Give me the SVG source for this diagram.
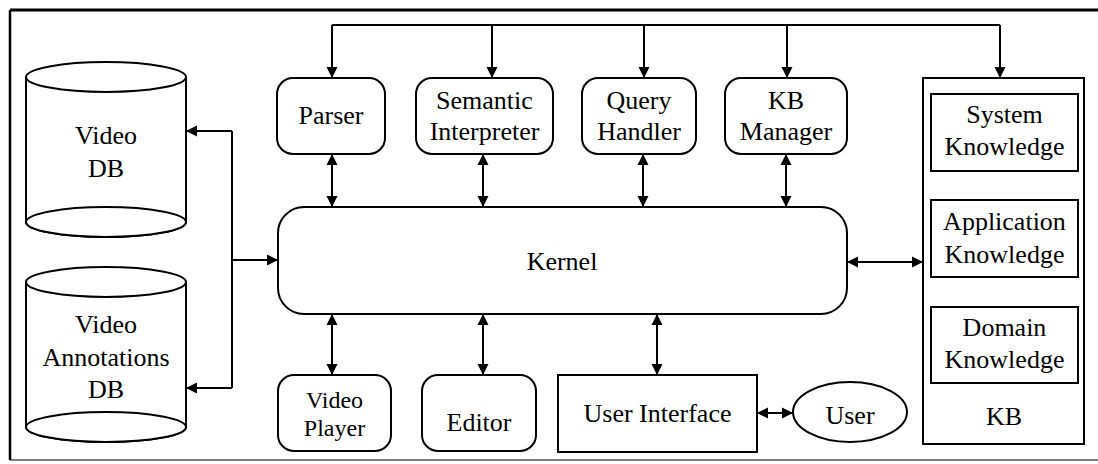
<svg xmlns="http://www.w3.org/2000/svg" width="1098" height="464" viewBox="0 0 1098 464">
<defs>
<style>
.box{fill:#fff;stroke:#000;stroke-width:2}
.frame{fill:none;stroke:#000}
.ln{fill:none;stroke:#000;stroke-width:2}
text{font-family:'Liberation Serif','DejaVu Serif','Times New Roman',serif;font-size:26px;fill:#000;text-anchor:middle}
.sm{font-size:24px}
</style>
<marker id="ah" markerUnits="userSpaceOnUse" markerWidth="12" markerHeight="12" refX="11" refY="6" orient="auto-start-reverse">
<path d="M0,0.5 L11,6 L0,11.5 Z" fill="#000"/>
</marker>
</defs>
<rect width="1098" height="464" fill="#fff"/>
<g id="frame">
<line class="frame" x1="10" y1="10" x2="1098" y2="10" stroke-width="3"/>
<line class="frame" x1="10" y1="10" x2="10" y2="460" stroke-width="2.5"/>
<line class="frame" x1="10" y1="460" x2="1098" y2="460" stroke-width="1" stroke="#bbb"/>
</g>
<g id="connectors">
<path class="ln" d="M332,25 H1000"/>
<path class="ln" d="M332,25 V78" marker-end="url(#ah)"/>
<path class="ln" d="M492,25 V78" marker-end="url(#ah)"/>
<path class="ln" d="M644,25 V78" marker-end="url(#ah)"/>
<path class="ln" d="M787,25 V78" marker-end="url(#ah)"/>
<path class="ln" d="M1000,25 V78" marker-end="url(#ah)"/>
<path class="ln" d="M332,154 V207" marker-start="url(#ah)" marker-end="url(#ah)"/>
<path class="ln" d="M483,154 V207" marker-start="url(#ah)" marker-end="url(#ah)"/>
<path class="ln" d="M643,154 V207" marker-start="url(#ah)" marker-end="url(#ah)"/>
<path class="ln" d="M786,154 V207" marker-start="url(#ah)" marker-end="url(#ah)"/>
<path class="ln" d="M332,314 V375" marker-start="url(#ah)" marker-end="url(#ah)"/>
<path class="ln" d="M483,314 V375" marker-start="url(#ah)" marker-end="url(#ah)"/>
<path class="ln" d="M657,314 V375" marker-start="url(#ah)" marker-end="url(#ah)"/>
<path class="ln" d="M847,262 H923" marker-start="url(#ah)" marker-end="url(#ah)"/>
<path class="ln" d="M757,413 H793" marker-start="url(#ah)" marker-end="url(#ah)"/>
<path class="ln" d="M232,131 V388"/>
<path class="ln" d="M232,131 H186" marker-end="url(#ah)"/>
<path class="ln" d="M232,388 H186" marker-end="url(#ah)"/>
<path class="ln" d="M232,260 H278" marker-end="url(#ah)"/>
</g>
<g id="video-db">
<path class="box" d="M26,77 V222 A80,15 0 0 0 186,222 V77"/>
<ellipse class="box" cx="106" cy="77" rx="80" ry="15"/>
<ellipse class="box" cx="106" cy="222" rx="80" ry="15" fill="none"/>
<text x="106" y="144">Video</text>
<text x="106" y="177">DB</text>
</g>
<g id="video-annotations-db">
<path class="box" d="M26,282 V427 A80,15 0 0 0 186,427 V282"/>
<ellipse class="box" cx="106" cy="282" rx="80" ry="15"/>
<ellipse class="box" cx="106" cy="427" rx="80" ry="15" fill="none"/>
<text x="106" y="333">Video</text>
<text x="106" y="366">Annotations</text>
<text x="106" y="398">DB</text>
</g>
<g id="parser">
<rect class="box" x="277" y="78" width="108" height="76" rx="16"/>
<text x="331" y="124">Parser</text>
</g>
<g id="semantic-interpreter">
<rect class="box" x="416" y="78" width="137" height="76" rx="16"/>
<text x="484.5" y="109">Semantic</text>
<text x="484.5" y="140">Interpreter</text>
</g>
<g id="query-handler">
<rect class="box" x="582" y="78" width="114" height="76" rx="16"/>
<text x="639" y="109">Query</text>
<text x="639" y="140">Handler</text>
</g>
<g id="kb-manager">
<rect class="box" x="725" y="78" width="122" height="76" rx="16"/>
<text x="786" y="109">KB</text>
<text x="786" y="140">Manager</text>
</g>
<g id="kernel">
<rect class="box" x="278" y="207" width="569" height="107" rx="26"/>
<text x="562" y="270">Kernel</text>
</g>
<g id="video-player">
<rect class="box" x="278" y="375" width="113" height="76" rx="16"/>
<text class="sm" x="334.5" y="408">Video</text>
<text class="sm" x="334.5" y="436">Player</text>
</g>
<g id="editor">
<rect class="box" x="422" y="375" width="114" height="76" rx="16"/>
<text x="479" y="431">Editor</text>
</g>
<g id="user-interface">
<rect class="box" x="558" y="375" width="199" height="77"/>
<text x="657.5" y="422">User Interface</text>
</g>
<g id="user">
<ellipse class="box" cx="850" cy="412" rx="57" ry="30"/>
<text x="850" y="424">User</text>
</g>
<g id="kb">
<rect class="box" x="923" y="78" width="161" height="366"/>
<text x="1004" y="425">KB</text>
</g>
<g id="system-knowledge">
<rect class="box" x="931" y="94" width="147" height="77"/>
<text x="1004.5" y="123">System</text>
<text x="1004.5" y="155">Knowledge</text>
</g>
<g id="application-knowledge">
<rect class="box" x="931" y="200" width="147" height="77"/>
<text x="1004.5" y="230">Application</text>
<text x="1004.5" y="263">Knowledge</text>
</g>
<g id="domain-knowledge">
<rect class="box" x="931" y="307" width="147" height="76"/>
<text x="1004.5" y="336">Domain</text>
<text x="1004.5" y="368">Knowledge</text>
</g>
</svg>
